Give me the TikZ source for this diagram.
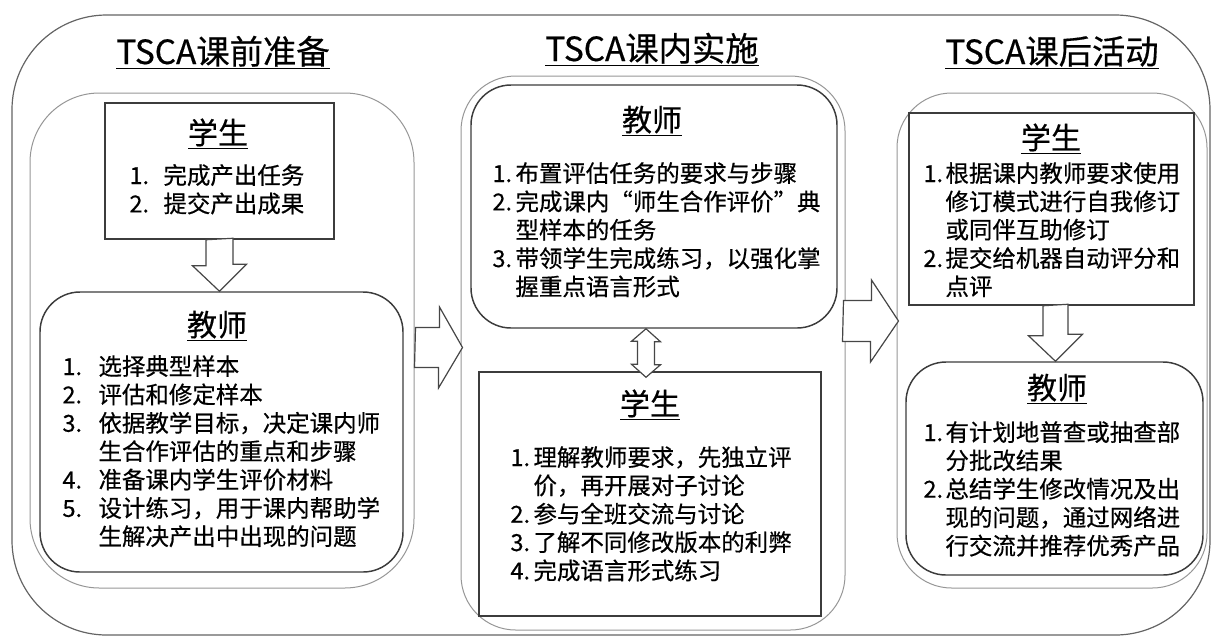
\documentclass[tikz,border=0pt]{standalone}
\usepackage{fontspec}
\setmainfont{Noto Sans CJK SC}[UprightFeatures={FakeBold=0.5}]
\usetikzlibrary{calc,fit}
\tikzset{every picture/.style={line width=0.75pt}}

\begin{document}
\begin{tikzpicture}[x=0.75pt,y=0.75pt,yscale=-1,xscale=1,
  cont/.style={draw={rgb, 255:red, 150; green, 150; blue, 150}, line width=0.75pt, inner sep=0pt},
  sbox/.style={draw={rgb, 255:red, 60; green, 60; blue, 60}, line width=1.1pt, inner sep=0pt},
  tbox/.style={sbox, rounded corners=30pt},
  blockarr/.style={draw={rgb, 255:red, 70; green, 70; blue, 70}, fill=white, line width=0.9pt, line join=miter},
  titletext/.style={inner sep=0pt, anchor=base, font=\fontsize{25}{30}\selectfont},
  headtext/.style={inner sep=0pt, anchor=base, font=\fontsize{22.5}{27}\selectfont},
  listtext/.style={inner sep=0pt, anchor=base west, font=\fontsize{17.6}{21.2}\selectfont}
]
\useasboundingbox (0,0) rectangle (1211,637);

% outer frame and the three columns
\draw [draw={rgb, 255:red, 100; green, 100; blue, 100}, line width=0.9pt, rounded corners=71pt] (12,15) rectangle (1210,635);
\node [cont, rounded corners=52pt, fit={(30,93) (414,588)}] (lcont) {};
\node [cont, rounded corners=41pt, fit={(461,76) (845,630)}] (mcont) {};
\node [cont, rounded corners=41pt, fit={(897,93) (1207,588)}] (rcont) {};

\node [titletext] (ltitle) at (223,64) {\underline{TSCA课前准备}};
\node [titletext] (mtitle) at (652,61) {\underline{TSCA课内实施}};
\node [titletext] (rtitle) at (1052,64) {\underline{TSCA课后活动}};

% boxes
\node [sbox, fit={(105,103) (334,239)}] (lstu) {};
\node [tbox, fit={(40,292) (403,572)}] (ltea) {};
\node [tbox, fit={(471,85) (837,328)}] (mtea) {};
\node [sbox, fit={(479,372) (821,616)}] (mstu) {};
\node [sbox, fit={(909,113) (1194,305)}] (rstu) {};
\node [tbox, fit={(906,362) (1203,575)}] (rtea) {};

% block arrows
\draw [blockarr] ($(lstu.south)+(-13.5,0)$) -- ++(0,26) -- ++(-13.5,0) -- (lstu.south |- ltea.north) -- ++(27,-27) -- ++(-13.5,0) -- ++(0,-26) -- cycle;
\coordinate (dtop) at ($(mtea.south)+(-8,0)$);
\coordinate (dbot) at ($(mstu.north)+(-4,6)$);
\draw [blockarr] (dtop) -- ++(14.5,13) -- ++(-6,0) -- ++(0,23) -- ++(6,0) -- (dbot) -- ++(-14.5,-13) -- ++(6,0) -- ++(0,-23) -- ++(-6,0) -- cycle;
\coordinate (ra) at ($(lcont.east)+(1,7)$);
\draw [blockarr] ($(ra)+(0,-20)$) -- ++(24,0) -- ++(0,-20.5) -- ($(ra -| mcont.west)+(2,0)$) -- ++(-24,40.5) -- ++(0,-20.5) -- ++(-24,0) -- cycle;
\coordinate (rb) at ($(mcont.east)+(-2,-32)$);
\draw [blockarr] ($(rb)+(0,-20.5)$) -- ++(28,0) -- ++(0,-20.5) -- ($(rb -| rcont.west)+(2,0)$) -- ++(-28,41) -- ++(0,-20.5) -- ++(-28,0) -- cycle;
\coordinate (rc) at ($(rstu.south)+(4,0)$);
\draw [blockarr] ($(rc)+(-12.5,0)$) -- ++(0,30) -- ++(-14.5,0) -- (rc |- rtea.north) -- ++(27,-27) -- ++(-14.5,0) -- ++(0,-30) -- cycle;

% texts
\node [headtext] (lstuh) at (218,144) {\underline{学生}};
\node [listtext] (lstul) at (129,184) {\begin{tabular}[t]{@{}p{25.5pt}@{}l@{}}
1. & 完成产出任务\\
2. & 提交产出成果
\end{tabular}};

\node [headtext] (lteah) at (217,336) {\underline{教师}};
\node [listtext] (lteal) at (62,375) {\begin{tabular}[t]{@{}p{27pt}@{}l@{}}
1. & 选择典型样本\\
2. & 评估和修定样本\\
3. & 依据教学目标，决定课内师\\
   & 生合作评估的重点和步骤\\
4. & 准备课内学生评价材料\\
5. & 设计练习，用于课内帮助学\\
   & 生解决产出中出现的问题
\end{tabular}};

\node [headtext] (mteah) at (652,131) {\underline{教师}};
\node [listtext] (mteal) at (492,182) {\begin{tabular}[t]{@{}p{17.25pt}@{}l@{}}
1. & 布置评估任务的要求与步骤\\
2. & 完成课内“师生合作评价”典\\
   & 型样本的任务\\
3. & 带领学生完成练习，以强化掌\\
   & 握重点语言形式
\end{tabular}};

\node [headtext] (mstuh) at (650,415) {\underline{学生}};
\node [listtext] (mstul) at (510,466) {\begin{tabular}[t]{@{}p{17.25pt}@{}l@{}}
1. & 理解教师要求，先独立评\\
   & 价，再开展对子讨论\\
2. & 参与全班交流与讨论\\
3. & 了解不同修改版本的利弊\\
4. & 完成语言形式练习
\end{tabular}};

\node [headtext] (rstuh) at (1051,149) {\underline{学生}};
\node [listtext] (rstul) at (923,182) {\begin{tabular}[t]{@{}p{16.5pt}@{}l@{}}
1. & 根据课内教师要求使用\\
   & 修订模式进行自我修订\\
   & 或同伴互助修订\\
2. & 提交给机器自动评分和\\
   & 点评
\end{tabular}};

\node [headtext] (rteah) at (1057,399) {\underline{教师}};
\node [listtext] (rteal) at (923,441) {\begin{tabular}[t]{@{}p{16.5pt}@{}l@{}}
1. & 有计划地普查或抽查部\\
   & 分批改结果\\
2. & 总结学生修改情况及出\\
   & 现的问题，通过网络进\\
   & 行交流并推荐优秀产品
\end{tabular}};

\end{tikzpicture}
\end{document}
